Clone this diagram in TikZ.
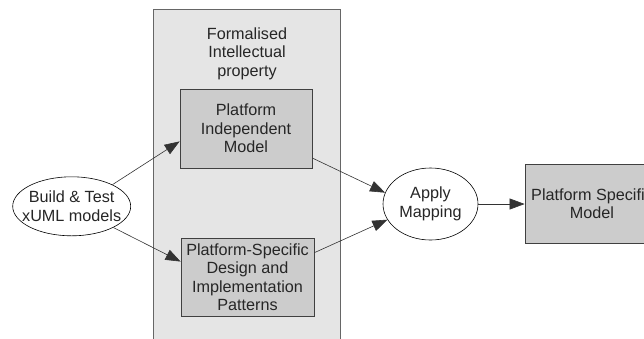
\documentclass[tikz,border=0pt]{standalone}
\usepackage{fontspec}
\setmainfont{Liberation Sans}
\usetikzlibrary{shapes.geometric,arrows.meta}
\begin{document}
\begin{tikzpicture}[x=1pt,y=-1pt,
  every node/.style={font=\fontsize{16.2}{18.5}\selectfont, text=black!85, align=center},
  panelbox/.style={draw=black!60, fill=black!10, line width=0.8pt, inner sep=0pt},
  modelbox/.style={draw=black!75, fill=black!20, line width=0.8pt, inner sep=0pt},
  actor/.style={ellipse, draw=black, fill=white, line width=0.6pt, inner xsep=-8pt, inner ysep=0pt},
  conn/.style={draw=black!80, line width=0.6pt, -{Triangle[length=15pt,width=11pt]}},
]
\useasboundingbox (0,0) rectangle (644,338);
\clip (0,0) rectangle (644,338);
\node[panelbox, minimum width=187pt, minimum height=345pt, anchor=north west] (panel) at (153,9) {};
\node (title) at (247,53.5) {Formalised\\Intellectual\\property};
\node[modelbox, minimum width=132pt, minimum height=79pt] (pim) at (246,128.5) {Platform\\Independent\\Model};
\node[modelbox, minimum width=133pt, minimum height=78pt] (ps) at (247.5,277) {Platform-Specific\\Design and\\Implementation\\Patterns};
\node[actor, minimum width=118pt, minimum height=59pt] (build) at (71.7,206.3) {Build \& Test\\xUML models};
\node[actor, minimum width=95pt, minimum height=72pt] (apply) at (430.5,204) {Apply\\Mapping};
\node[modelbox, minimum width=134pt, minimum height=79pt] (psm) at (592,203.5) {Platform Specific\\Model};
\draw[conn] (build.28) -- (pim.191);
\draw[conn] (build.-27) -- (ps.167);
\draw[conn] (pim.-24) -- (apply.166);
\draw[conn] (ps.20) -- (apply.200);
\draw[conn] (apply.east) -- (psm.west |- apply.east);
\end{tikzpicture}
\end{document}
